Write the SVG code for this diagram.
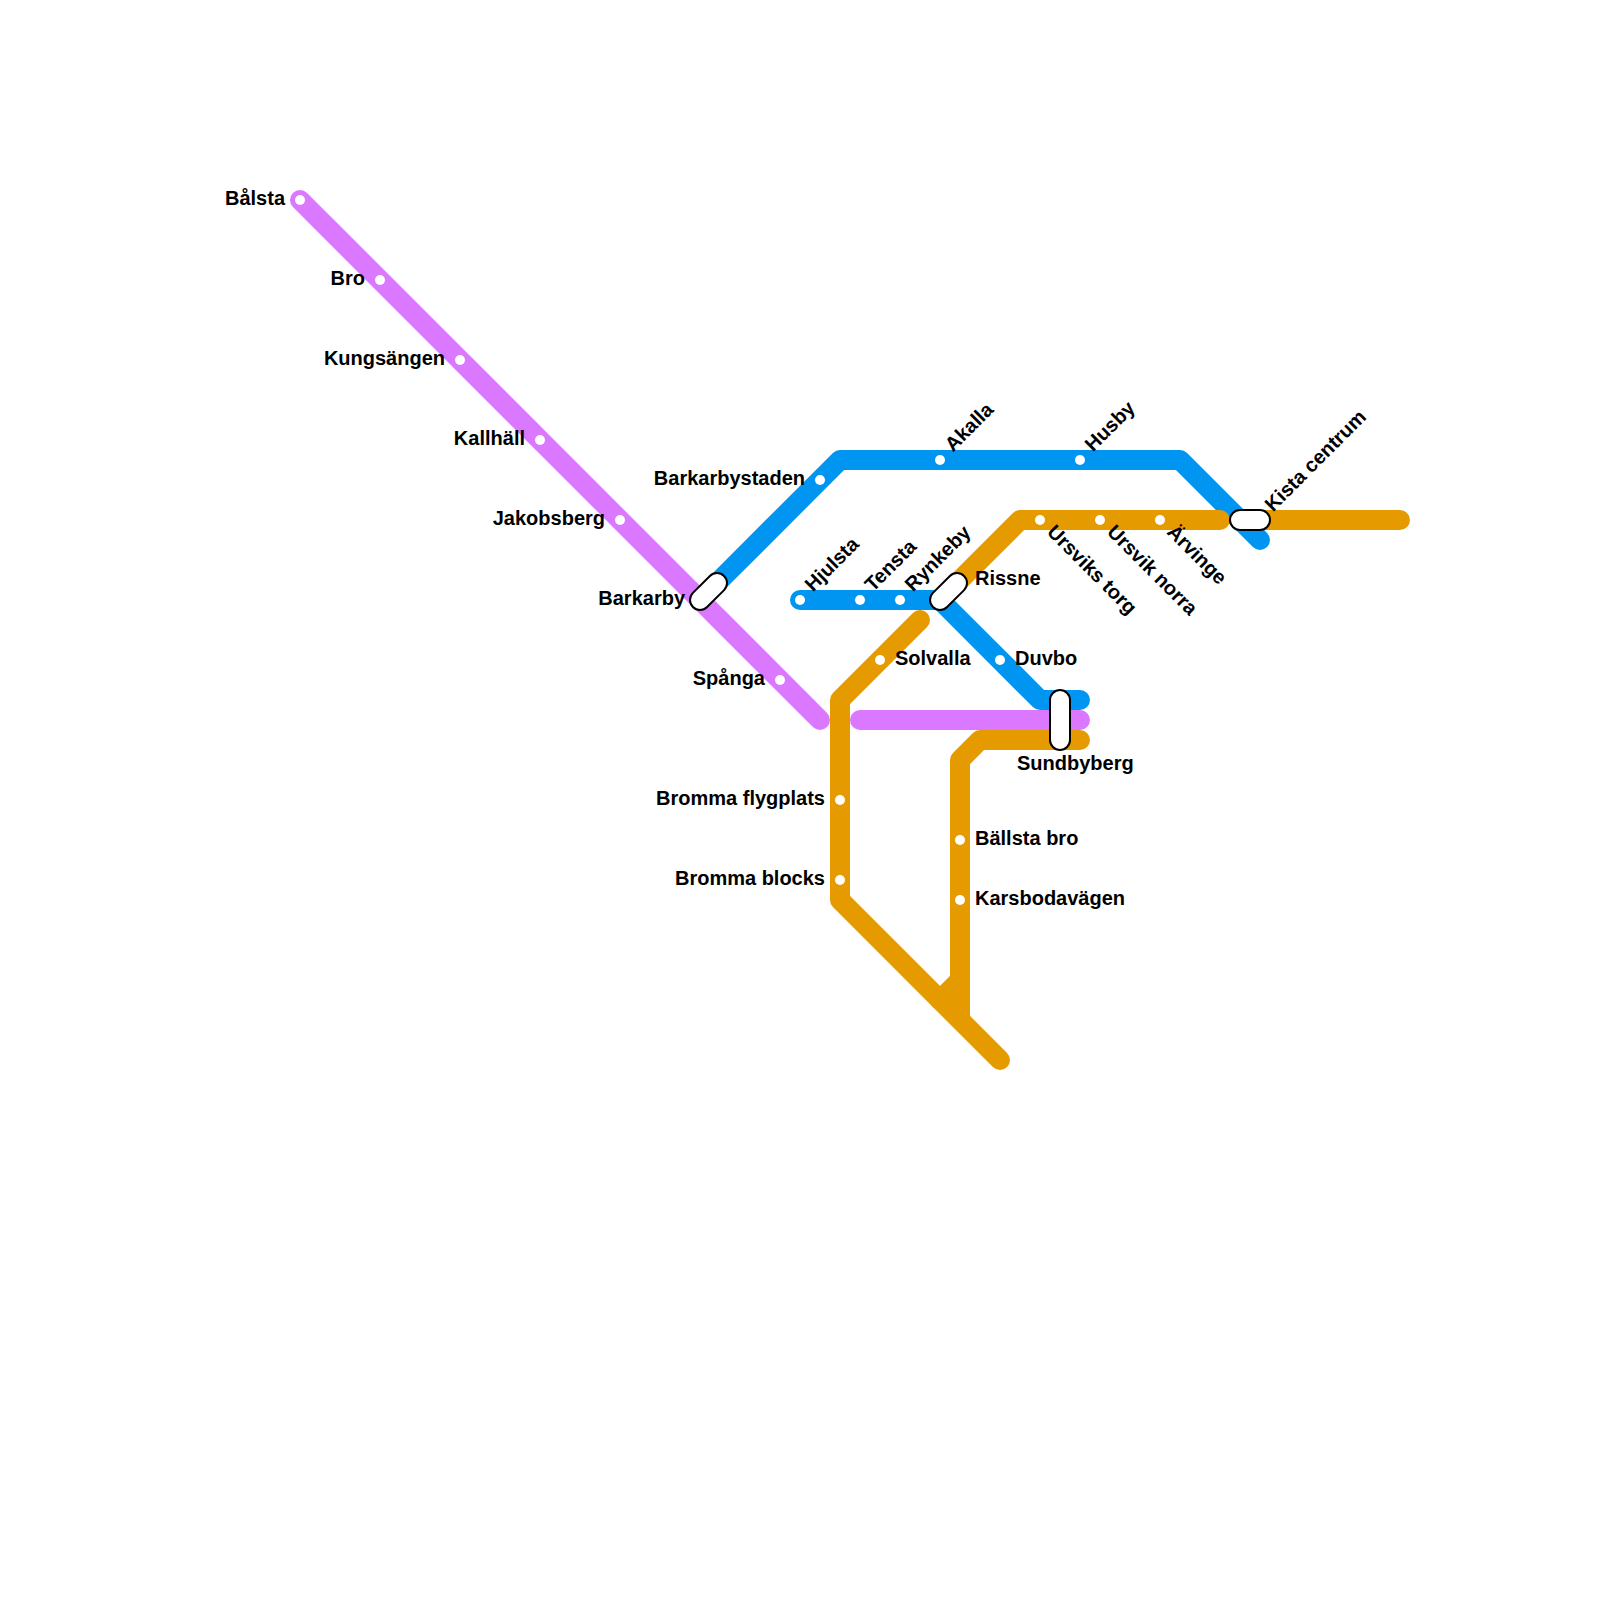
<svg xmlns="http://www.w3.org/2000/svg" width="1600" height="1600" viewBox="0 0 1600 1600">
<style>
.l{fill:none;stroke-width:20;stroke-linecap:round;stroke-linejoin:round}
.b{stroke:#0095f1}.p{stroke:#da78ff}.o{stroke:#e59b00}
.s{fill:#fff}
.i{fill:#fff;stroke:#000;stroke-width:2}
text{font-family:"Liberation Sans",Arial,sans-serif;font-weight:700;font-size:20px;fill:#000}
.e{text-anchor:end}
</style>
<rect width="1600" height="1600" fill="#fff"/>
<g id="connectors">
<path class="l b" d="M720 580L840 460H1180L1260 540"/>
<path class="l b" d="M800 600H940L1040 700H1080"/>
<path class="l p" d="M300 200L820 720"/>
<path class="l p" d="M860 720H1080"/>
<path class="l o" d="M920 620L840 700V900L1000 1060"/>
<path class="l o" d="M1080 740H980L960 760V980L940 1000M960 980V1010"/>
<path class="l o" style="stroke-linecap:butt" d="M960 980V1020"/>
<path class="l o" d="M960 580L1020 520H1220"/>
<path class="l o" d="M1260 520H1400"/>
</g>
<g id="bolsta"><circle class="s" cx="300" cy="200" r="5"/><text class="e" x="285" y="205">Bålsta</text></g>
<g id="bro"><circle class="s" cx="380" cy="280" r="5"/><text class="e" x="365" y="285">Bro</text></g>
<g id="kungsangen"><circle class="s" cx="460" cy="360" r="5"/><text class="e" x="445" y="365">Kungsängen</text></g>
<g id="kallhall"><circle class="s" cx="540" cy="440" r="5"/><text class="e" x="525" y="445">Kallhäll</text></g>
<g id="jakobsberg"><circle class="s" cx="620" cy="520" r="5"/><text class="e" x="605" y="525">Jakobsberg</text></g>
<g id="barkarby"><rect class="i" x="686.500" y="581.500" width="44" height="20" rx="10" transform="rotate(-45 708.500 591.500)"/><text class="e" x="685" y="605">Barkarby</text></g>
<g id="spanga"><circle class="s" cx="780" cy="680" r="5"/><text class="e" x="765" y="685">Spånga</text></g>
<g id="barkarbystaden"><circle class="s" cx="820" cy="480" r="5"/><text class="e" x="805" y="485">Barkarbystaden</text></g>
<g id="akalla"><circle class="s" cx="940" cy="460" r="5"/><text transform="translate(953 452.500) rotate(-45)">Akalla</text></g>
<g id="husby"><circle class="s" cx="1080" cy="460" r="5"/><text transform="translate(1093 452.500) rotate(-45)">Husby</text></g>
<g id="hjulsta"><circle class="s" cx="800" cy="600" r="5"/><text transform="translate(813 592.500) rotate(-45)">Hjulsta</text></g>
<g id="tensta"><circle class="s" cx="860" cy="600" r="5"/><text transform="translate(873 592.500) rotate(-45)">Tensta</text></g>
<g id="rynkeby"><circle class="s" cx="900" cy="600" r="5"/><text transform="translate(913 592.500) rotate(-45)">Rynkeby</text></g>
<g id="rissne"><rect class="i" x="926.500" y="581.500" width="44" height="20" rx="10" transform="rotate(-45 948.500 591.500)"/><text x="975" y="585">Rissne</text></g>
<g id="solvalla"><circle class="s" cx="880" cy="660" r="5"/><text x="895" y="665">Solvalla</text></g>
<g id="duvbo"><circle class="s" cx="1000" cy="660" r="5"/><text x="1015" y="665">Duvbo</text></g>
<g id="sundbyberg"><rect class="i" x="1050" y="690" width="20" height="60" rx="10"/><text x="1017" y="770">Sundbyberg</text></g>
<g id="bromma-flygplats"><circle class="s" cx="840" cy="800" r="5"/><text class="e" x="825" y="805">Bromma flygplats</text></g>
<g id="bromma-blocks"><circle class="s" cx="840" cy="880" r="5"/><text class="e" x="825" y="885">Bromma blocks</text></g>
<g id="ballsta-bro"><circle class="s" cx="960" cy="840" r="5"/><text x="975" y="845">Bällsta bro</text></g>
<g id="karsbodavagen"><circle class="s" cx="960" cy="900" r="5"/><text x="975" y="905">Karsbodavägen</text></g>
<g id="ursviks-torg"><circle class="s" cx="1040" cy="520" r="5"/><text transform="translate(1046 533) rotate(45)">Ursviks torg</text></g>
<g id="ursvik-norra"><circle class="s" cx="1100" cy="520" r="5"/><text transform="translate(1106 533) rotate(45)">Ursvik norra</text></g>
<g id="arvinge"><circle class="s" cx="1160" cy="520" r="5"/><text transform="translate(1166 533) rotate(45)">Ärvinge</text></g>
<g id="kista-centrum"><rect class="i" x="1230" y="510" width="40" height="20" rx="10"/><text transform="translate(1273 512.500) rotate(-45)">Kista centrum</text></g>
</svg>
